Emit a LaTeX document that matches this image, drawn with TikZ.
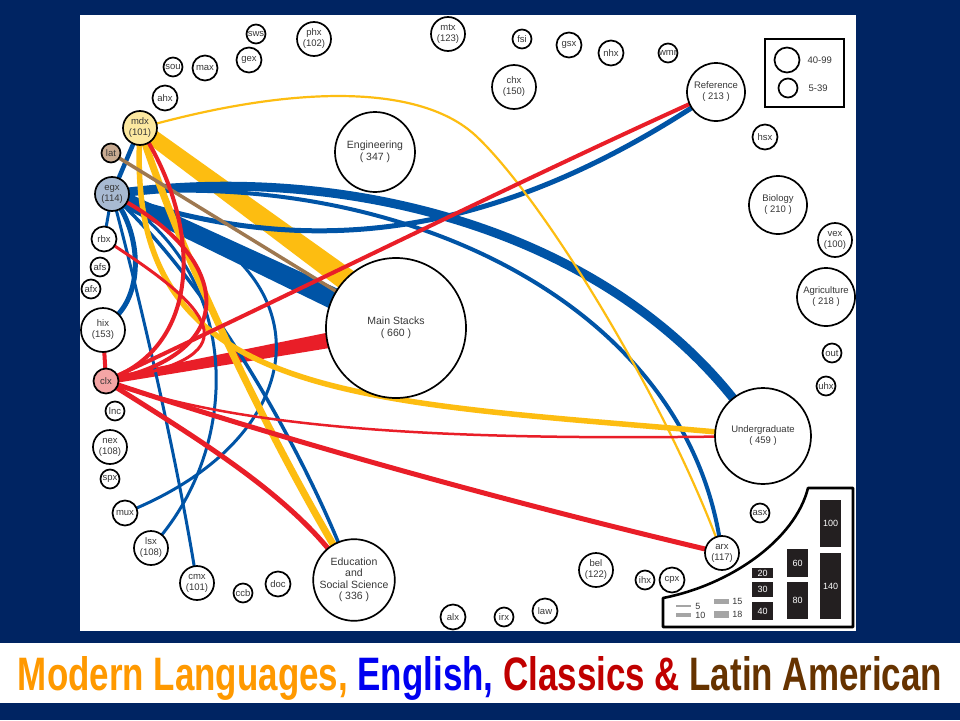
\documentclass[tikz,border=0pt]{standalone}
\usepackage{fontspec}
\usepackage{graphicx}
\setmainfont{Liberation Sans}
\usetikzlibrary{positioning,calc}
\definecolor{navy}{RGB}{0,36,98}
\definecolor{mlyel}{RGB}{253,189,17}
\definecolor{engblue}{RGB}{0,84,166}
\definecolor{clred}{RGB}{233,30,40}
\definecolor{labrown}{RGB}{158,120,80}
\definecolor{txtgray}{RGB}{55,55,55}
\definecolor{barblk}{RGB}{35,31,32}
\definecolor{leggray}{RGB}{165,165,165}
\definecolor{mdxfill}{RGB}{252,232,160}
\definecolor{egxfill}{RGB}{168,186,210}
\definecolor{latfill}{RGB}{200,170,145}
\definecolor{clxfill}{RGB}{244,165,165}
\definecolor{tOrange}{RGB}{255,153,0}
\definecolor{tBlue}{RGB}{0,0,240}
\definecolor{tRed}{RGB}{192,0,0}
\definecolor{tBrown}{RGB}{102,51,0}
\pgfdeclarelayer{back}
\pgfdeclarelayer{flows}
\pgfsetlayers{back,flows,main}
\tikzset{
  coll/.style={circle, draw=black, line width=1.7pt, fill=white, inner sep=0pt,
    text=txtgray, align=center, font=\fontsize{9.5}{11}\selectfont},
  cS/.style={coll, minimum size=19pt},
  cM/.style={coll, minimum size=25pt},
  cL/.style={coll, minimum size=34pt},
  cXL/.style={coll, minimum size=44pt},
  cH/.style={coll, minimum size=58pt},
  cE/.style={coll, minimum size=80pt, font=\fontsize{10.5}{11.5}\selectfont},
  cU/.style={coll, minimum size=96pt},
  cMS/.style={coll, minimum size=140pt, font=\fontsize{10.5}{12}\selectfont},
  flowML/.style={draw=mlyel, shorten <=-3pt, shorten >=-3pt},
  flowEN/.style={draw=engblue, shorten <=-3pt, shorten >=-3pt},
  flowCL/.style={draw=clred, shorten <=-3pt, shorten >=-3pt},
  flowLA/.style={draw=labrown, shorten <=-3pt, shorten >=-3pt},
  bar/.style={fill=barblk, text=white, inner sep=0pt, minimum width=21pt,
    font=\fontsize{9}{9}\selectfont},
  wbar/.style={fill=leggray, inner sep=0pt, minimum width=15pt},
  legtxt/.style={inner sep=0pt, text=txtgray, font=\fontsize{9}{9}\selectfont}
}
\begin{document}
\begin{tikzpicture}[x=1pt, y=-1pt]
  \useasboundingbox (0,0) rectangle (960,720);
  \begin{pgfonlayer}{back}
    \fill[navy] (0,0) rectangle (960,720);
    \fill[white] (80,15) rectangle (856,631);
    \fill[white] (0,643) rectangle (960,703);
  \end{pgfonlayer}

  \node[cS] (sws) at (256,34) {sws};
  \node[cL] (phx) at (314,39) {phx\\(102)};
  \node[cM] (gex) at (249,60) {gex};
  \node[cS] (sou) at (173,67) {sou};
  \node[cM] (max) at (205,68) {max};
  \node[cM] (ahx) at (165,98) {ahx};
  \node[cL, fill=mdxfill] (mdx) at (140,128) {mdx\\(101)};
  \node[cS, fill=latfill] (lat) at (111,153) {lat};
  \node[cL, fill=egxfill] (egx) at (112,194) {egx\\(114)};
  \node[cM] (rbx) at (104,239) {rbx};
  \node[cS] (afs) at (100,267) {afs};
  \node[cS] (afx) at (91,289) {afx};
  \node[cXL] (hix) at (103,330) {hix\\(153)};
  \node[cM, fill=clxfill] (clx) at (106,381) {clx};
  \node[cS] (lnc) at (115,411) {lnc};
  \node[cL] (nex) at (110,447) {nex\\(108)};
  \node[cS] (spx) at (110,479) {spx};
  \node[cM] (mux) at (125,513) {mux};
  \node[cL] (lsx) at (151,548) {lsx\\(108)};
  \node[cL] (cmx) at (197,583) {cmx\\(101)};
  \node[cS] (ccb) at (243,593) {ccb};
  \node[cM] (doc) at (278,584) {doc};
  \node[cL] (mtx) at (448,34) {mtx\\(123)};
  \node[cS] (fsi) at (522,39) {fsi};
  \node[cM] (gsx) at (569,45) {gsx};
  \node[cM] (nhx) at (611,53) {nhx};
  \node[cS] (wmr) at (668,53) {wmr};
  \node[cXL] (chx) at (514,87) {chx\\(150)};
  \node[cE] (eng) at (375,152) {Engineering\\( 347 )};
  \node[cH] (ref) at (716,92) {Reference\\( 213 )};
  \node[cM] (hsx) at (765,137) {hsx};
  \node[cH] (bio) at (778,205) {Biology\\( 210 )};
  \node[cL] (vex) at (835,240) {vex\\(100)};
  \node[cH] (agr) at (826,297) {Agriculture\\( 218 )};
  \node[cS] (out) at (832,353) {out};
  \node[cS] (uhx) at (826,386) {uhx};
  \node[cU] (ug) at (763,436) {Undergraduate\\( 459 )};
  \node[cMS] (ms) at (396,328) {Main Stacks\\( 660 )};
  \node[cE] (edu) at (354,580) {Education\\and\\Social Science\\( 336 )};
  \node[cL] (arx) at (722,553) {arx\\(117)};
  \node[cS] (asx) at (760,513) {asx};
  \node[cL] (bel) at (596,570) {bel\\(122)};
  \node[cS] (ihx) at (645,580) {ihx};
  \node[cM] (cpx) at (672,580) {cpx};
  \node[cM] (alx) at (453,617) {alx};
  \node[cS] (irx) at (504,617) {irx};
  \node[cM] (law) at (545,611) {law};

  \coordinate (msY) at ($(ms)+(0,-12)$);

  \begin{pgfonlayer}{flows}
    \fill[mlyel] ($(mdx)!7.5pt!90:(msY)$) -- ($(msY)!12pt!-90:(mdx)$)
      -- ($(msY)!12pt!90:(mdx)$) -- ($(mdx)!7.5pt!-90:(msY)$) -- cycle;
    \fill[engblue] ($(egx)!7.5pt!90:(ms)$) -- ($(ms)!11.5pt!-90:(egx)$)
      -- ($(ms)!11.5pt!90:(egx)$) -- ($(egx)!7.5pt!-90:(ms)$) -- cycle;
    \fill[clred] ($(clx)!3.5pt!90:(ms)$) -- ($(ms)!9pt!-90:(clx)$)
      -- ($(ms)!9pt!90:(clx)$) -- ($(clx)!3.5pt!-90:(ms)$) -- cycle;

    \draw[flowEN, line width=9pt] (egx) .. controls (350,165) and (600,230) .. (ug);
    \draw[flowEN, line width=4pt] (egx) .. controls (400,172) and (680,300) .. (arx);
    \draw[flowEN, line width=5pt] (egx) .. controls (300,255) and (480,245) .. (ref);
    \draw[flowEN, line width=5pt] (egx) .. controls (140,240) and (142,290) .. (hix);
    \draw[flowEN, line width=3pt] (egx) .. controls (140,300) and (175,450) .. (cmx);
    \draw[flowEN, line width=3pt] (egx) .. controls (240,280) and (240,440) .. (lsx);
    \draw[flowEN, line width=3pt] (egx) .. controls (330,260) and (320,430) .. (mux);
    \draw[flowEN, line width=3.5pt] (egx) .. controls (220,300) and (300,450) .. (edu);
    \path[flowEN] (egx) edge[line width=4.5pt] (mdx)
      (egx) edge[line width=3pt] (rbx);

    \draw[flowML, line width=7pt] (mdx) .. controls (180,250) and (260,420) .. (edu);
    \draw[flowML, line width=5.5pt] (mdx) .. controls (130,400) and (350,400) .. (ug);
    \draw[flowML, line width=2.2pt] (mdx) .. controls (300,85) and (420,85) .. (475,135)
      .. controls (540,195) and (660,390) .. (arx);

    \path[flowLA] (lat) edge[line width=3.5pt] (ms);

    \path[flowCL] (clx) edge[line width=4pt] (hix);
    \draw[flowCL, line width=4pt] (clx) .. controls (300,290) and (500,190) .. (ref);
    \draw[flowCL, line width=4pt] (clx) .. controls (200,340) and (200,230) .. (mdx);
    \draw[flowCL, line width=4pt] (clx) .. controls (240,350) and (230,260) .. (egx);
    \draw[flowCL, line width=3pt] (clx) .. controls (260,355) and (205,305) .. (rbx);
    \draw[flowCL, line width=5pt] (clx) .. controls (200,440) and (280,490) .. (edu);
    \draw[flowCL, line width=5pt] (clx) .. controls (300,445) and (520,505) .. (arx);
    \draw[flowCL, line width=2.5pt] (clx) .. controls (250,430) and (450,440) .. (ug);
  \end{pgfonlayer}

  \node[draw, line width=2.8pt, minimum width=79pt, minimum height=68pt] (legbox) at (804.5,73) {};
  \node[cM] (lg40) at (787,60) {};
  \node[cS] (lg5) at (788,88) {};
  \node[legtxt, font=\fontsize{9.5}{9.5}\selectfont, anchor=west, right=7pt of lg40] {40-99};
  \node[legtxt, font=\fontsize{9.5}{9.5}\selectfont, anchor=west, right=10pt of lg5] {5-39};

  \draw[line width=2.6pt, line join=round] (663,598) .. controls (730,585) and (795,540) .. (808,488)
    -- (853,488) -- (853,627) -- (663,627) -- cycle;
  \node[bar, minimum height=47pt] (b100) at (830.5,523.5) {100};
  \node[bar, minimum height=66pt] (b140) at (830.5,586) {140};
  \node[bar, minimum height=28pt] (b60) at (797.5,563) {60};
  \node[bar, minimum height=37pt] (b80) at (797.5,600.5) {80};
  \node[bar, minimum height=10pt] (b20) at (762.5,573) {20};
  \node[bar, minimum height=15pt] (b30) at (762.5,589.5) {30};
  \node[bar, minimum height=18pt] (b40) at (762.5,611) {40};
  \node[wbar, minimum height=1.8pt] (w5) at (683.5,606) {};
  \node[wbar, minimum height=3.5pt] (w10) at (683.5,615) {};
  \node[wbar, minimum height=5pt] (w15) at (721.5,601.5) {};
  \node[wbar, minimum height=7pt] (w18) at (721.5,614.5) {};
  \node[legtxt, right=4pt of w5] {5};
  \node[legtxt, right=4pt of w10] {10};
  \node[legtxt, right=3pt of w15] {15};
  \node[legtxt, right=3pt of w18] {18};

  \node[anchor=base, inner sep=0pt] (title) at (480,690)
    {\resizebox{924pt}{34pt}{\bfseries\color{tOrange}Modern Languages, \color{tBlue}English,
      \color{tRed}Classics \& \color{tBrown}Latin American}};
\end{tikzpicture}
\end{document}
